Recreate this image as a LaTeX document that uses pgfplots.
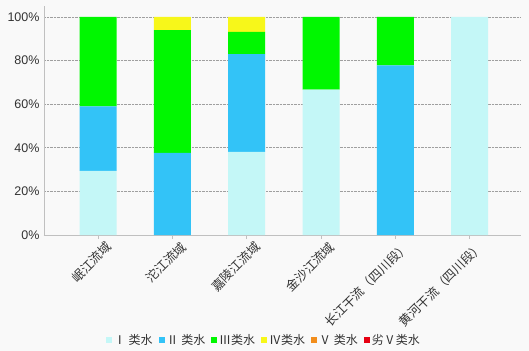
\documentclass[border=0pt]{standalone}
\usepackage{pgfplots}
\pgfplotsset{compat=1.18}
\usepackage{fontspec}
\setmainfont{Liberation Sans}
\newfontfamily\cjk{Noto Sans CJK SC}
\definecolor{bg}{HTML}{F9F9F9}
\definecolor{c1}{HTML}{C4F7F7}
\definecolor{c2}{HTML}{33C3F7}
\definecolor{c3}{HTML}{00F700}
\definecolor{c4}{HTML}{F7F71A}
\definecolor{c5}{HTML}{F28E1C}
\definecolor{c6}{HTML}{E60012}
\definecolor{txt}{HTML}{333333}
\definecolor{axc}{HTML}{C0C0C0}
\begin{document}
\begin{tikzpicture}
\fill[bg] (-44bp,-116bp) rectangle (485bp,235bp);
\path[use as bounding box] (-44bp,-116bp) rectangle (485bp,235bp);
\begin{axis}[
  scale only axis, width=477bp, height=229bp,
  ybar stacked, bar width=37bp,
  ymin=0, ymax=105, xmin=-0.727, xmax=5.69,
  ytick={0,20,...,100},
  yticklabel={\pgfmathprintnumber{\tick}\%},
  /pgf/number format/assume math mode=true,
  yticklabel style={font=\fontsize{12.5bp}{14bp}\selectfont, text=txt, xshift=-1bp},
  ymajorgrids, grid style={densely dotted, gray!75, line width=0.6pt},
  xtick={0,...,5},
  xticklabels={{\cjk 岷江流域},{\cjk 沱江流域},{\cjk 嘉陵江流域},{\cjk 金沙江流域},{\cjk 长江干流（四川段）},{\cjk 黄河干流（四川段）}},
  xticklabel style={rotate=45, anchor=north east, font=\fontsize{12.5bp}{14bp}\selectfont, text=txt, inner sep=1bp, xshift=5bp, yshift=-5bp},
  xtick align=outside, major tick length=4bp,
  xtick style={axc, line width=0.6pt},
  ytick style={draw=none},
  axis x line*=bottom, axis y line*=left,
  axis line style={axc, line width=0.8pt, -},
  legend columns=6,
  legend style={at={(0.461,-0.459)}, anchor=center, draw=none, fill=none,
    font=\cjk\fontsize{12bp}{14bp}\selectfont, text=txt,
    /tikz/every even column/.append style={column sep=4bp}},
  legend image code/.code={\fill[#1] (0bp,-3bp) rectangle (6bp,3bp);},
]
\addplot[fill=c1, draw=none] coordinates {(0,29.4) (1,0) (2,38.1) (3,66.7) (4,0) (5,100)};
\addplot[fill=c2, draw=none] coordinates {(0,29.6) (1,37.6) (2,44.8) (3,0) (4,77.8) (5,0)};
\addplot[fill=c3, draw=none] coordinates {(0,41.0) (1,56.3) (2,10.2) (3,33.3) (4,22.2) (5,0)};
\addplot[fill=c4, draw=none] coordinates {(0,0) (1,6.1) (2,6.9) (3,0) (4,0) (5,0)};
\addplot[fill=c5, draw=none] coordinates {(0,0) (1,0) (2,0) (3,0) (4,0) (5,0)};
\addplot[fill=c6, draw=none] coordinates {(0,0) (1,0) (2,0) (3,0) (4,0) (5,0)};
\legend{Ⅰ 类水, Ⅱ 类水, Ⅲ类水, Ⅳ类水, Ⅴ 类水, 劣Ⅴ类水}
\end{axis}
\end{tikzpicture}
\end{document}
